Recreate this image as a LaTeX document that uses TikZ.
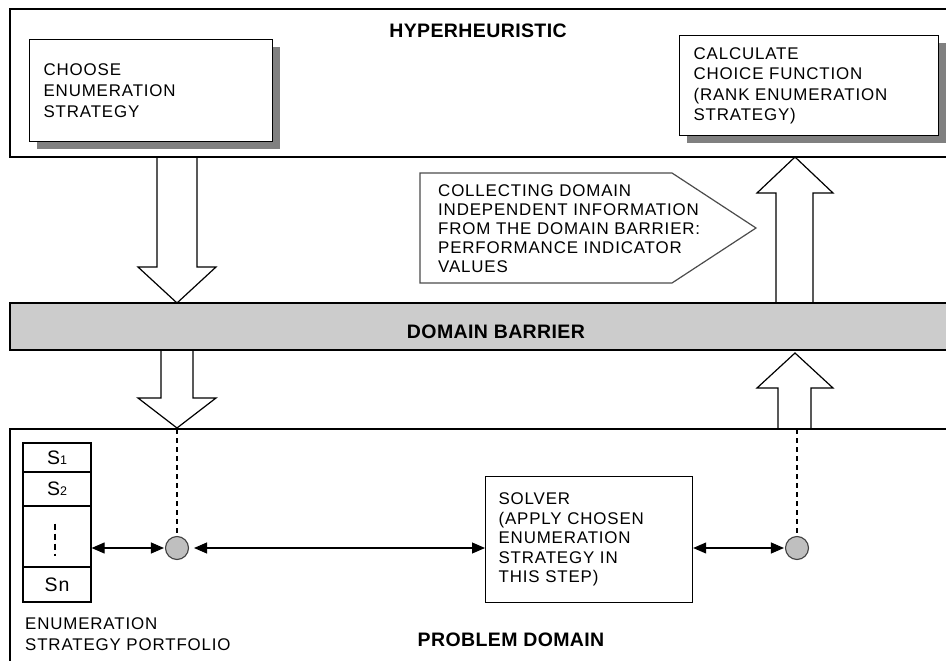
\documentclass[tikz,border=0pt]{standalone}
\usepackage{fontspec}
\setmainfont{Liberation Sans}[LetterSpace=5]
\newfontfamily\titlefam{Liberation Sans}[LetterSpace=2]
\usetikzlibrary{arrows.meta,shadows}
\newcommand\txtfont[1]{\fontsize{16.9}{#1}\selectfont}
\newcommand\ttlfont{\titlefam\bfseries\fontsize{19.5}{22}\selectfont}
\newcommand\subfnt{\fontsize{12.5}{12.5}\selectfont}
\definecolor{barrier}{gray}{0.8}
\definecolor{shadowgray}{gray}{0.5}
\definecolor{dotgray}{gray}{0.75}
\begin{document}
\begin{tikzpicture}[x=1pt,y=-1pt,
  frame/.style={draw=black, line width=1.2pt},
  title/.style={font=\ttlfont, inner sep=0pt},
  box/.style={draw=black, line width=1.2pt, fill=white, align=left,
    inner xsep=14pt, inner ysep=0pt, anchor=north west},
  shbox/.style={box, drop shadow={shadow xshift=7pt, shadow yshift=-7pt,
    fill=shadowgray, opacity=1}},
  bigarrow/.style={draw=black, line width=1.2pt, line join=miter},
  callout/.style={draw=black!70, line width=1.2pt, line join=miter},
  cell/.style={draw=black, line width=1.2pt, minimum width=68pt, inner sep=0pt,
    font=\fontsize{19.5}{19.5}\selectfont},
  dotnode/.style={circle, draw=black!75, fill=dotgray, line width=1.1pt,
    minimum size=23pt, inner sep=0pt},
  dbl/.style={line width=1.1pt,
    {Triangle[length=13pt,width=11pt]}-{Triangle[length=13pt,width=11pt]}},
  dashline/.style={line width=1.2pt, dash pattern=on 5pt off 4pt}
]
\useasboundingbox (0,0) rectangle (946,661);
\fill[white] (0,0) rectangle (946,661);

% HYPERHEURISTIC region
\draw[frame] (960,9) -- (10,9) -- (10,157) -- (960,157);
\node[title] (hh) at (478,31) {HYPERHEURISTIC};
\node[shbox, font={\txtfont{21}}, text width=215pt, minimum height=102pt] (choose) at (29,39)
  {CHOOSE\\ENUMERATION\\STRATEGY};
\node[shbox, font={\txtfont{20.5}}, text width=231pt, minimum height=100pt] (calc) at (679,35)
  {CALCULATE\\CHOICE FUNCTION\\(RANK ENUMERATION\\STRATEGY)};

% callout
\draw[callout] (420,173) -- (672,173) -- (756,228) -- (672,283) -- (420,283) -- cycle;
\node[anchor=west, align=left, inner sep=0pt, font={\txtfont{19}}] (collect) at (438,229)
  {COLLECTING DOMAIN\\INDEPENDENT INFORMATION\\FROM THE DOMAIN BARRIER:\\PERFORMANCE INDICATOR\\VALUES};

% DOMAIN BARRIER
\draw[frame, fill=barrier] (960,303) -- (10,303) -- (10,350) -- (960,350);
\node[title] (db) at (496,332) {DOMAIN BARRIER};

% PROBLEM DOMAIN
\draw[frame] (960,429) -- (10,429) -- (10,670);
\node[title] (pd) at (511,640) {PROBLEM DOMAIN};

% big arrows
\draw[bigarrow] (157,158) -- (157,267) -- (138,267) -- (177,303) -- (216,267) -- (197,267) -- (197,158);
\draw[bigarrow] (776,303) -- (776,193) -- (757,193) -- (795,157) -- (833,193) -- (813,193) -- (813,303);
\draw[bigarrow] (161,350) -- (161,398) -- (138,398) -- (177,428) -- (216,398) -- (193,398) -- (193,350);
\draw[bigarrow] (778,429) -- (778,388) -- (757,388) -- (795,353) -- (833,388) -- (811,388) -- (811,429);

% portfolio
\node[cell, minimum height=29pt] (s1) at (57,457.5) {S{\subfnt 1}};
\node[cell, minimum height=34pt] (s2) at (57,489) {S{\subfnt 2}};
\node[cell, minimum height=61pt] (sdots) at (57,536.5) {};
\node[cell, minimum height=35pt] (sn) at (57,584.5) {Sn};
\draw[line width=1.2pt, dash pattern=on 6pt off 4pt] ([xshift=-2pt,yshift=13pt]sdots.center) -- ([xshift=-2pt,yshift=-19pt]sdots.center);
\node[anchor=north west, align=left, inner sep=0pt, font={\txtfont{21}}] (plabel) at (25,617)
  {ENUMERATION\\STRATEGY PORTFOLIO};

% solver
\node[box, font={\txtfont{19.5}}, inner xsep=13pt, text width=181pt, minimum height=126pt] (solver) at (485,476)
  {SOLVER\\(APPLY CHOSEN\\ENUMERATION\\STRATEGY IN\\THIS STEP)};

% junction circles
\node[dotnode] (c1) at (177,548) {};
\node[dotnode] (c2) at (797,548) {};
\coordinate (t1) at (177,429);
\coordinate (t2) at (797,429);

% connectors
\draw[dbl] (sdots.east |- c1) -- ([xshift=-1pt]c1.west);
\draw[dbl, shorten <=5pt] (c1.east) -- (solver.west |- c1);
\draw[dbl] (solver.east |- c2) -- ([xshift=-1pt]c2.west);
\draw[dashline] (t1) -- (c1.north);
\draw[dashline] (t2) -- (c2.north);
\end{tikzpicture}
\end{document}
